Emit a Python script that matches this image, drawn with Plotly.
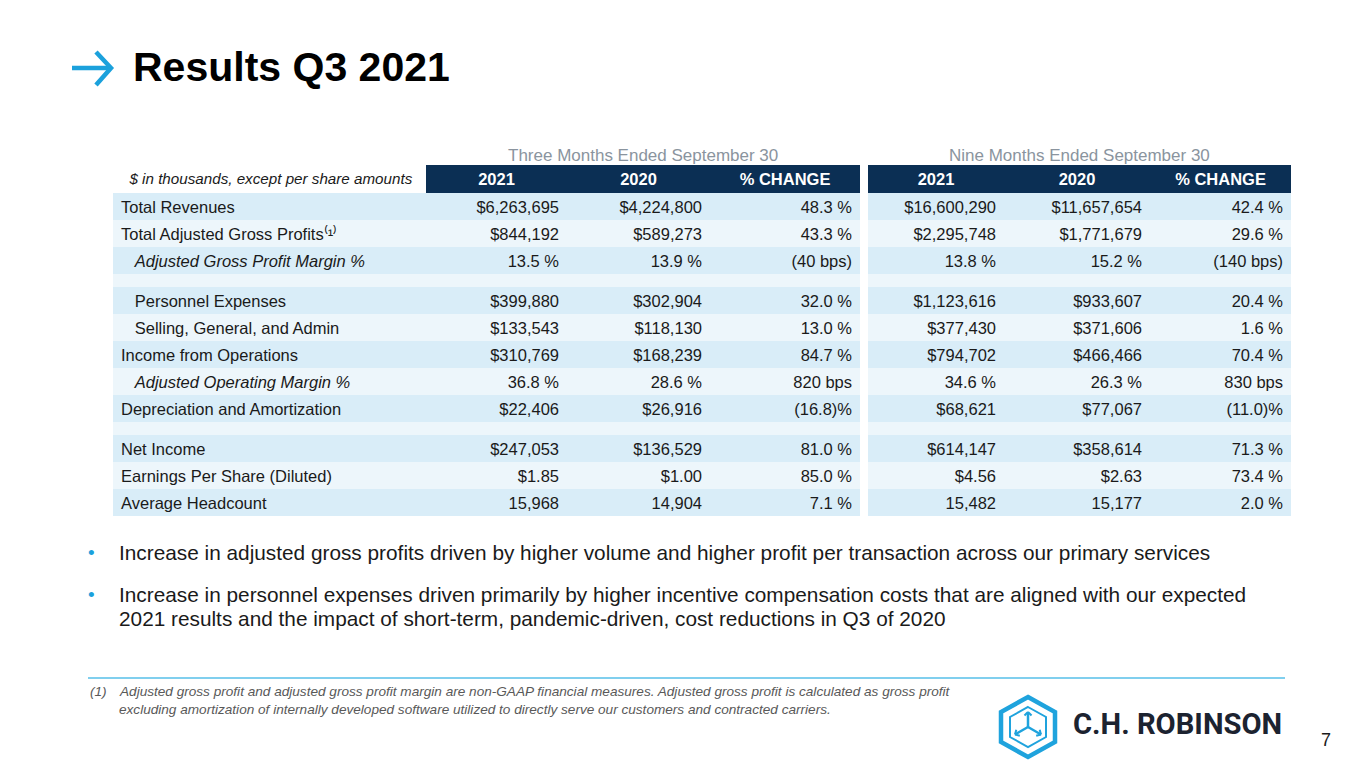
import plotly.graph_objects as go

# the page body keeps an 8px margin, so the figure is shrunk by that and all
# pixel positions below are given in slide coordinates (1365x768)
PAGE_W, PAGE_H = 1365, 768
OFF = 8
FW, FH = PAGE_W - 2 * OFF, PAGE_H - 2 * OFF

FONT = 'Liberation Sans, Arial, sans-serif'
NAVY = '#0b2f54'
BAND_DARK = '#d9edf8'
BAND_LIGHT = '#edf6fb'
BLUE = '#1ba1dc'
TEXT = '#1a1a1a'
GREY = '#8a949e'

# ---- data -----------------------------------------------------------------
column_names = ['2021', '2020', '% CHANGE']
unit_note = '$ in thousands, except per share amounts'
group_titles = ['Three Months Ended September 30', 'Nine Months Ended September 30']

row_labels = [
    'Total Revenues',
    'Total Adjusted Gross Profits\u207d\u00b9\u207e',
    'Adjusted Gross Profit Margin %',
    'Personnel Expenses',
    'Selling, General, and Admin',
    'Income from Operations',
    'Adjusted Operating Margin %',
    'Depreciation and Amortization',
    'Net Income',
    'Earnings Per Share (Diluted)',
    'Average Headcount',
]
row_indent = [0, 0, 1, 1, 1, 0, 1, 0, 0, 0, 0]
row_italic = [0, 0, 1, 0, 0, 0, 1, 0, 0, 0, 0]

q3_2021 = ['$6,263,695', '$844,192', '13.5 %', '$399,880', '$133,543', '$310,769',
           '36.8 %', '$22,406', '$247,053', '$1.85', '15,968']
q3_2020 = ['$4,224,800', '$589,273', '13.9 %', '$302,904', '$118,130', '$168,239',
           '28.6 %', '$26,916', '$136,529', '$1.00', '14,904']
q3_change = ['48.3 %', '43.3 %', '(40 bps)', '32.0 %', '13.0 %', '84.7 %',
             '820 bps', '(16.8)%', '81.0 %', '85.0 %', '7.1 %']

ytd_2021 = ['$16,600,290', '$2,295,748', '13.8 %', '$1,123,616', '$377,430', '$794,702',
            '34.6 %', '$68,621', '$614,147', '$4.56', '15,482']
ytd_2020 = ['$11,657,654', '$1,771,679', '15.2 %', '$933,607', '$371,606', '$466,466',
            '26.3 %', '$77,067', '$358,614', '$2.63', '15,177']
ytd_change = ['42.4 %', '29.6 %', '(140 bps)', '20.4 %', '1.6 %', '70.4 %',
              '830 bps', '(11.0)%', '71.3 %', '73.4 %', '2.0 %']

block_sizes = [3, 5, 3]

bullets = [
    ['Increase in adjusted gross profits driven by higher volume and higher profit per '
     'transaction across our primary services'],
    ['Increase in personnel expenses driven primarily by higher incentive compensation costs '
     'that are aligned with our expected',
     '2021 results and the impact of short-term, pandemic-driven, cost reductions in Q3 of 2020'],
]
footnote = ['Adjusted gross profit and adjusted gross profit margin are non-GAAP financial measures. '
            'Adjusted gross profit is calculated as gross profit',
            'excluding amortization of internally developed software utilized to directly serve '
            'our customers and contracted carriers.']


def px(x):
    return (x - OFF) / FW


def py(y):
    return 1 - (y - OFF) / FH


labels = [('\u00a0' * 3 if ind else '') + lab for lab, ind in zip(row_labels, row_indent)]

# table geometry (slide pixels)
HEADER_H, ROW_H, GAP_H = 28, 27, 13
TABLE_TOP = 165
sides = [
    dict(x0=113, x1=860, widths=[313, 141, 143, 150], cols=[labels, q3_2021, q3_2020, q3_change]),
    dict(x0=868, x1=1291, widths=[136, 146, 141], cols=[ytd_2021, ytd_2020, ytd_change]),
]

fig = go.Figure()


def add_row(side, top, h, values, fill, color, size, weight, style, align):
    # one table row, drawn as the header of a go.Table so that each row keeps its own style
    fig.add_trace(go.Table(
        domain=dict(x=[px(side['x0']), px(side['x1'])], y=[max(0, py(top + h + 6)), py(top)]),
        columnwidth=side['widths'],
        header=dict(values=values, height=h, align=align, fill=dict(color=fill),
                    line=dict(width=0),
                    font=dict(family=FONT, size=size, color=color, weight=weight, style=style)),
        cells=dict(values=[]),
    ))


# header row
for s, side in enumerate(sides):
    vals = list(column_names)
    fill, color, size = [NAVY] * 3, ['white'] * 3, [16.5] * 3
    weight, style, align = ['bold'] * 3, ['normal'] * 3, ['center'] * 3
    if s == 0:
        vals = ['\u00a0\u00a0' + unit_note] + vals
        fill, color, size = ['white'] + fill, [TEXT] + color, [15.2] + size
        weight, style, align = ['normal'] + weight, ['italic'] + style, ['left'] + align
    add_row(side, TABLE_TOP, HEADER_H, vals, fill, color, size, weight, style, align)

top = TABLE_TOP + HEADER_H
start = 0
for b, n in enumerate(block_sizes):
    if b > 0:
        for side in sides:
            ncol = len(side['cols'])
            add_row(side, top, GAP_H, [''] * ncol, [BAND_LIGHT] * ncol, [TEXT] * ncol,
                    [10] * ncol, ['normal'] * ncol, ['normal'] * ncol, ['left'] * ncol)
        top += GAP_H
    for k in range(n):
        r = start + k
        band = BAND_DARK if k % 2 == 0 else BAND_LIGHT
        for s, side in enumerate(sides):
            ncol = len(side['cols'])
            style = ['normal'] * ncol
            align = ['right'] * ncol
            if s == 0:
                style[0] = 'italic' if row_italic[r] else 'normal'
                align[0] = 'left'
            add_row(side, top, ROW_H, [col[r] for col in side['cols']], [band] * ncol,
                    [TEXT] * ncol, [16.5] * ncol, ['normal'] * ncol, style, align)
        top += ROW_H
    start += n

annotations = []
# group titles over the two tables
for k, (title, side) in enumerate(zip(group_titles, sides)):
    x0 = side['x0'] + (side['widths'][0] if k == 0 else 0)
    annotations.append(dict(x=px((x0 + side['x1']) / 2), y=py(155), text=title, showarrow=False,
                            xanchor='center', yanchor='middle',
                            font=dict(family=FONT, size=17, color=GREY)))

# title
annotations.append(dict(x=px(131), y=py(67), text='Results Q3 2021', showarrow=False,
                        xanchor='left', yanchor='middle',
                        font=dict(family=FONT, size=41, color='#000000', weight='bold')))

# bullets
for yb, lines in zip([552, 594], bullets):
    annotations.append(dict(x=px(86), y=py(yb), text='•', showarrow=False, xanchor='left',
                            yanchor='middle', font=dict(family=FONT, size=19, color=BLUE)))
    for i, line in enumerate(lines):
        annotations.append(dict(x=px(117), y=py(yb + 24 * i), text=line, showarrow=False,
                                xanchor='left', yanchor='middle',
                                font=dict(family=FONT, size=20.8, color=TEXT)))

# footnote
annotations.append(dict(x=px(88), y=py(691), text='(1)', showarrow=False, xanchor='left',
                        yanchor='middle',
                        font=dict(family=FONT, size=13.6, color='#595959', style='italic')))
for i, line in enumerate(footnote):
    annotations.append(dict(x=px(117), y=py(691 + 18 * i), text=line, showarrow=False,
                            xanchor='left', yanchor='middle',
                            font=dict(family=FONT, size=13.6, color='#595959', style='italic')))

# logo wordmark and page number
annotations.append(dict(x=px(1071), y=py(724), text='C.H. ROBINSON', showarrow=False,
                        xanchor='left', yanchor='middle',
                        font=dict(family='Roboto, DejaVu Sans', size=29.2, color='#1c2330', weight='bold')))
annotations.append(dict(x=px(1326), y=py(740), text='7', showarrow=False, xanchor='center',
                        yanchor='middle', font=dict(family=FONT, size=18, color=TEXT)))

shapes = []
# title arrow
shapes.append(dict(type='line', xref='paper', yref='paper', x0=px(72), y0=py(68), x1=px(111), y1=py(68),
                   line=dict(color=BLUE, width=4.5)))
shapes.append(dict(type='path', xref='paper', yref='paper',
                   path=f'M {px(96)} {py(52)} L {px(111)} {py(68)} L {px(96)} {py(85)}',
                   line=dict(color=BLUE, width=4.5)))
# footnote rule
shapes.append(dict(type='line', xref='paper', yref='paper', x0=px(88), y0=py(678), x1=px(1285), y1=py(678),
                   line=dict(color='#56bfe9', width=1.5)))


# logo hexagon (pointy top)
def hex_path(cx, cy, rx, ry):
    pts = [(cx, cy - ry), (cx + rx, cy - ry / 2), (cx + rx, cy + ry / 2),
           (cx, cy + ry), (cx - rx, cy + ry / 2), (cx - rx, cy - ry / 2)]
    return 'M ' + ' L '.join(f'{px(x)} {py(y)}' for x, y in pts) + ' Z'


def seg(x0, y0, x1, y1, w=2.5):
    return dict(type='line', xref='paper', yref='paper', x0=px(x0), y0=py(y0),
                x1=px(x1), y1=py(y1), line=dict(color=LOGO, width=w))


LOGO = '#1fa3dd'
cx, cy = 1028, 727
shapes.append(dict(type='path', xref='paper', yref='paper', path=hex_path(cx, cy, 27, 30),
                   line=dict(color=LOGO, width=4.5)))
shapes.append(dict(type='path', xref='paper', yref='paper', path=hex_path(cx, cy, 18, 20),
                   line=dict(color=LOGO, width=2)))
# cube edges with small outward arrow heads
for dx, dy in [(0, -1), (0.866, 0.5), (-0.866, 0.5)]:
    ex, ey = cx + 15 * dx, cy + 15 * dy
    shapes.append(seg(cx, cy, ex, ey))
    for sgn in (1, -1):
        ax = -dx * 0.707 - sgn * dy * 0.707
        ay = -dy * 0.707 + sgn * dx * 0.707
        shapes.append(seg(ex, ey, ex + 5 * ax, ey + 5 * ay, 2))

fig.update_layout(
    width=FW, height=FH,
    margin=dict(l=0, r=0, t=0, b=0),
    paper_bgcolor='white', plot_bgcolor='white',
    annotations=annotations,
    shapes=shapes,
    showlegend=False,
)

fig.write_html('out.html')
